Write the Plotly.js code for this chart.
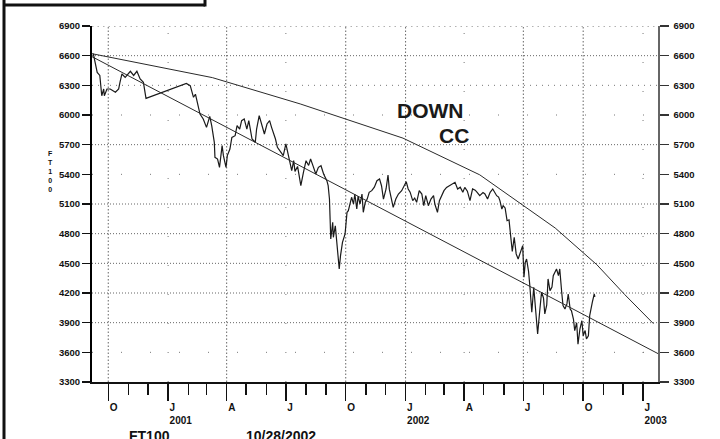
<!DOCTYPE html>
<html><head><meta charset="utf-8">
<script src="https://cdn.plot.ly/plotly-3.0.1.min.js"></script>
<style>html,body{margin:0;padding:0;background:#fff;}#chart{width:720px;height:439px;}</style>
</head><body><div id="chart"></div>
<script>
const priceDates = [
'2000-09-08','2000-09-11','2000-09-14','2000-09-18','2000-09-20','2000-09-21','2000-09-24','2000-09-25','2000-09-29','2000-10-04','2000-10-12','2000-10-17','2000-10-19','2000-10-22','2000-10-27','2000-11-04','2000-11-09','2000-11-14','2000-11-19','2000-11-24','2000-11-28',
'2001-01-29','2001-02-04','2001-02-07','2001-02-09','2001-02-12','2001-02-14','2001-02-19','2001-02-24','2001-03-01','2001-03-06','2001-03-09','2001-03-13','2001-03-14','2001-03-18','2001-03-21','2001-03-25','2001-03-27','2001-03-31','2001-04-02','2001-04-06','2001-04-09','2001-04-14','2001-04-17','2001-04-21','2001-04-24','2001-04-28','2001-05-02','2001-05-05','2001-05-10','2001-05-15','2001-05-17','2001-05-21','2001-05-25','2001-05-29','2001-06-02','2001-06-06','2001-06-09','2001-06-15','2001-06-18','2001-06-22','2001-06-27','2001-07-01','2001-07-05','2001-07-10','2001-07-13','2001-07-15','2001-07-19','2001-07-24','2001-07-28','2001-08-01','2001-08-05','2001-08-08','2001-08-12','2001-08-16','2001-08-20','2001-08-24','2001-08-28','2001-09-02','2001-09-04','2001-09-06','2001-09-07','2001-09-08','2001-09-11','2001-09-12','2001-09-15','2001-09-17','2001-09-20','2001-09-21','2001-09-23','2001-09-26','2001-09-30','2001-10-03','2001-10-05','2001-10-08','2001-10-10','2001-10-13','2001-10-15','2001-10-18','2001-10-20','2001-10-23','2001-10-26','2001-10-28','2001-10-31','2001-11-03','2001-11-06','2001-11-10','2001-11-14','2001-11-18','2001-11-22','2001-11-25','2001-11-28','2001-12-02','2001-12-05','2001-12-07','2001-12-11','2001-12-13','2001-12-17','2001-12-21','2001-12-26','2001-12-30',
'2002-01-02','2002-01-05','2002-01-08','2002-01-12','2002-01-15','2002-01-18','2002-01-22','2002-01-26','2002-01-29','2002-02-01','2002-02-05','2002-02-09','2002-02-13','2002-02-15','2002-02-19','2002-02-22','2002-02-26','2002-03-01','2002-03-05','2002-03-10','2002-03-14','2002-03-18','2002-03-22','2002-03-26','2002-03-30','2002-04-02','2002-04-06','2002-04-10','2002-04-14','2002-04-18','2002-04-21','2002-04-25','2002-04-30','2002-05-03','2002-05-07','2002-05-11','2002-05-15','2002-05-18','2002-05-21','2002-05-24','2002-05-26','2002-05-29','2002-05-31','2002-06-03','2002-06-04','2002-06-06','2002-06-09','2002-06-12','2002-06-14','2002-06-17','2002-06-20','2002-06-23','2002-06-27','2002-06-30','2002-07-02','2002-07-04','2002-07-06','2002-07-09','2002-07-11','2002-07-14','2002-07-17','2002-07-19','2002-07-23','2002-07-26','2002-07-29','2002-08-01','2002-08-03','2002-08-06','2002-08-08','2002-08-11','2002-08-14','2002-08-16','2002-08-19','2002-08-21','2002-08-24','2002-08-26','2002-08-29','2002-08-31','2002-09-03','2002-09-06','2002-09-08','2002-09-11','2002-09-13','2002-09-16','2002-09-18','2002-09-21','2002-09-23','2002-09-26','2002-09-29','2002-10-01','2002-10-04','2002-10-06','2002-10-09','2002-10-11','2002-10-15','2002-10-18','2002-10-19'];
const priceValues = [
6620,6515,6430,6400,6263,6195,6263,6195,6263,6263,6230,6263,6330,6415,6381,6442,6400,6442,6364,6330,6168,
6320,6297,6230,6179,6210,6145,6010,5960,5875,5986,5892,5724,5572,5555,5471,5690,5589,5471,5589,5656,5774,5791,5892,5858,5943,5960,5858,5943,5757,5724,5858,5993,5892,5808,5909,5943,5875,5757,5673,5639,5589,5707,5572,5437,5538,5430,5480,5285,5420,5538,5490,5555,5480,5403,5471,5487,5403,5336,5285,5150,4948,4746,4914,4763,4880,4746,4544,4443,4578,4712,4797,5016,5032,5117,5168,5100,5201,5049,5180,5100,5201,5016,5117,5150,5218,5235,5270,5336,5353,5285,5150,5252,5393,5250,5134,5066,5150,5201,5235,5285,
5326,5252,5220,5134,5160,5117,5235,5200,5083,5184,5083,5150,5184,5100,5016,5134,5184,5235,5268,5285,5302,5319,5252,5270,5218,5268,5230,5134,5252,5240,5218,5184,5215,5201,5150,5218,5252,5218,5184,5170,5134,5049,5083,5060,5016,4931,4940,4746,4620,4763,4595,4544,4628,4679,4359,4510,4544,4420,4274,4005,4258,4072,3786,4005,4207,4150,3988,4080,4342,4224,4260,4375,4410,4443,4375,4443,4207,4072,4038,4090,4190,4038,4020,3937,3819,3900,3683,3836,3920,3768,3820,3735,3768,3971,4106,4190,4160];

const curveDates = ['2000-09-06','2001-03-10','2001-07-23','2001-12-28','2002-04-25','2002-08-19','2002-10-22','2002-12-04','2003-01-17'];
const curveValues = [6620,6378,6112,5766,5395,4857,4486,4183,3890];
const lineDates = ['2000-09-06','2003-01-24'];
const lineValues = [6590,3587];

const yTicks = [3300,3600,3900,4200,4500,4800,5100,5400,5700,6000,6300,6600,6900];
const quarterTicks = ['2000-10-01','2001-01-01','2001-04-01','2001-07-01','2001-10-01','2002-01-01','2002-04-01','2002-07-01','2002-10-01','2003-01-01'];
const quarterLabels = ['O','J<br>2001','A','J','O','J<br>2002','A','J','O','J<br>2003'];
const gridYDense = [6600,5700,5100,4800,4500,4200,3900];
const gridYTop = [6900];
const gridYMedium = [6300];
const gridYSparse = [6000,5400,3600];
const gridXDense = ['2000-10-01','2001-04-01','2001-10-01','2002-01-01','2002-07-01','2002-10-01'];
const gridXSparse = ['2001-01-01','2001-07-01','2002-04-01','2003-01-01'];
const yTitle = 'FT100';
const footLeft = 'FT100';
const footDate = '10/28/2002';
const noteLine1 = 'DOWN';
const noteLine2 = 'CC';

const FONT = 'Liberation Sans, Arial, Helvetica, sans-serif';
const xRange = ['2000-09-06','2003-01-24'];
const yRange = [3300,6900];

const traces = [
  {x: priceDates, y: priceValues, type:'scatter', mode:'lines', line:{color:'#1a1a1a', width:1.2}, hoverinfo:'skip', showlegend:false},
  {x: curveDates, y: curveValues, type:'scatter', mode:'lines', line:{color:'#2a2a2a', width:1}, hoverinfo:'skip', showlegend:false},
  {x: lineDates, y: lineValues, type:'scatter', mode:'lines', line:{color:'#2a2a2a', width:1}, yaxis:'y2', hoverinfo:'skip', showlegend:false}
];

const shapes = [];
function hline(v, dash, color){ shapes.push({type:'line', layer:'below', xref:'paper', x0:0, x1:1, yref:'y', y0:v, y1:v, line:{color:color, width:1, dash:dash}}); }
function vline(d, dash, color){ shapes.push({type:'line', layer:'below', xref:'x', x0:d, x1:d, yref:'paper', y0:0, y1:1, line:{color:color, width:1, dash:dash}}); }
gridYDense.forEach(v => hline(v, '1px,2px', '#666'));
gridYTop.forEach(v => hline(v, '1.5px,4px', '#666'));
gridYMedium.forEach(v => hline(v, '1px,5px', '#777'));
gridYSparse.forEach(v => hline(v, '1px,28px', '#777'));
gridXDense.forEach(d => vline(d, '1.5px,2px', '#666'));
gridXSparse.forEach(d => vline(d, '1px,28px', '#777'));

// page frame (outer border pieces of the original printout)
const W = 566, H = 356, L = 92, T = 26;
const px = x => (x - L) / W;
const py = y => (T + H - y) / H;
shapes.push({type:'line', xref:'paper', yref:'paper', x0:px(4), x1:px(4), y0:py(445), y1:py(-5), line:{color:'#111', width:3}});
shapes.push({type:'line', xref:'paper', yref:'paper', x0:px(3), x1:px(205), y0:py(5), y1:py(5), line:{color:'#111', width:3}});
shapes.push({type:'line', xref:'paper', yref:'paper', x0:px(205), x1:px(205), y0:py(6.5), y1:py(-5), line:{color:'#111', width:3}});

const annotations = [
  {text:noteLine1, xref:'paper', yref:'paper', x:px(430.5), y:py(110), xanchor:'center', yanchor:'middle', showarrow:false, font:{family:FONT, size:21, color:'#1a1a1a', weight:'bold'}},
  {text:noteLine2, xref:'paper', yref:'paper', x:px(454.3), y:py(135.3), xanchor:'center', yanchor:'middle', showarrow:false, font:{family:FONT, size:21, color:'#1a1a1a', weight:'bold'}},
  {text:footLeft, xref:'paper', yref:'paper', x:px(127), y:py(436), xanchor:'left', yanchor:'middle', showarrow:false, font:{family:FONT, size:14, color:'#111', weight:'bold'}},
  {text:footDate, xref:'paper', yref:'paper', x:px(244), y:py(436), xanchor:'left', yanchor:'middle', showarrow:false, font:{family:FONT, size:14, color:'#111', weight:'bold'}},
  {text:yTitle.split('').join('<br>'), xref:'paper', yref:'paper', x:px(50), y:py(171), xanchor:'center', yanchor:'middle', showarrow:false, font:{family:FONT, size:7, color:'#111', weight:'bold'}}
];

const tickFont = {family:FONT, size:9.5, color:'#111', weight:'bold'};
const layout = {
  width:720, height:439,
  margin:{l:L, r:720-L-W, t:T, b:439-T-H, pad:0},
  paper_bgcolor:'#fff', plot_bgcolor:'#fff',
  showlegend:false,
  xaxis:{type:'date', range:xRange, tickmode:'array', tickvals:quarterTicks, ticktext:quarterLabels,
    ticks:'outside', ticklen:17, tickwidth:1.5, tickcolor:'#111', showline:true, linecolor:'#111', linewidth:1.5,
    showgrid:false, zeroline:false, ticklabelposition:'outside right', ticklabelstandoff:15,
    tickfont:{family:FONT, size:10, color:'#111', weight:'bold'},
    minor:{dtick:'M1', tick0:'2000-10-01', ticks:'outside', ticklen:11, tickwidth:1.5, tickcolor:'#111', showgrid:false}},
  yaxis:{range:yRange, tickmode:'array', tickvals:yTicks, ticks:'outside', ticklen:8, tickwidth:1.5, tickcolor:'#111',
    showline:true, linecolor:'#000', linewidth:2, showgrid:false, zeroline:false, tickfont:tickFont, ticklabelstandoff:0},
  yaxis2:{range:yRange, overlaying:'y', side:'right', tickmode:'array', tickvals:yTicks, ticks:'outside', ticklen:9, tickwidth:1.5, tickcolor:'#333',
    showline:true, linecolor:'#666', linewidth:1.5, showgrid:false, zeroline:false, tickfont:tickFont, ticklabelstandoff:3},
  shapes:shapes,
  annotations:annotations
};
Plotly.newPlot('chart', traces, layout, {staticPlot:true, displayModeBar:false});
</script></body></html>
